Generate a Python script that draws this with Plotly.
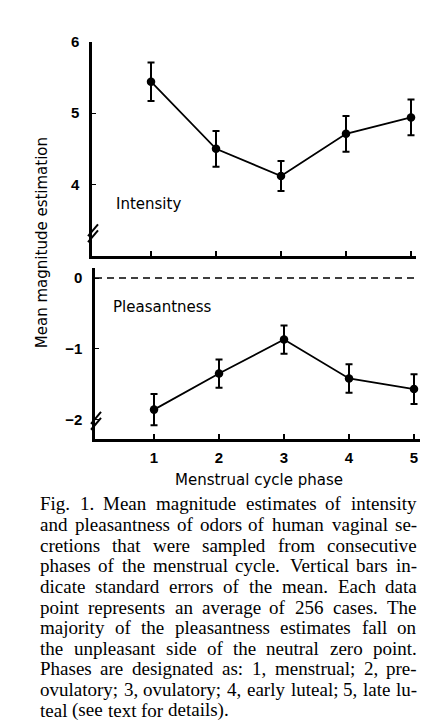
import plotly.graph_objects as go

# ---------------- data ----------------
phases = [1, 2, 3, 4, 5]
phase_labels = ["1", "2", "3", "4", "5"]
intensity = [5.44, 4.50, 4.12, 4.71, 4.94]
intensity_se = [0.27, 0.25, 0.21, 0.25, 0.25]
pleasantness = [-1.86, -1.35, -0.87, -1.42, -1.57]
pleasantness_se = [0.22, 0.20, 0.20, 0.20, 0.21]
int_ticks = [4, 5, 6]
int_ticktext = ["4", "5", "6"]
pl_ticks = [-2, -1, 0]
pl_ticktext = ["\u22122", "\u22121", "0"]

caption_lines = [
    "Fig. 1. Mean magnitude estimates of intensity",
    "and pleasantness of odors of human vaginal se-",
    "cretions that were sampled from consecutive",
    "phases of the menstrual cycle. Vertical bars in-",
    "dicate standard errors of the mean. Each data",
    "point represents an average of 256 cases. The",
    "majority of the pleasantness estimates fall on",
    "the unpleasant side of the neutral zero point.",
    "Phases are designated as: 1, menstrual; 2, pre-",
    "ovulatory; 3, ovulatory; 4, early luteal; 5, late lu-",
    "teal (see text for details).",
]

# the page body has an 8px margin: the figure starts at (8, 8) of the window
OX, OY = 8, 8
W, H = 437 - OX, 725 - OY


def px(x):
    return (x - OX) / W


def py(y):
    return 1 - (y - OY) / H


SANS = "DejaVu Sans"
SERIF = "Liberation Serif"

fig = go.Figure()

fig.add_trace(go.Scatter(
    x=phases, y=intensity, mode="lines+markers",
    line=dict(color="black", width=1.8),
    marker=dict(color="black", size=8.5),
    error_y=dict(type="data", array=intensity_se, visible=True,
                 color="black", thickness=2, width=3.5),
    xaxis="x", yaxis="y", showlegend=False,
))
fig.add_trace(go.Scatter(
    x=phases, y=pleasantness, mode="lines+markers",
    line=dict(color="black", width=1.8),
    marker=dict(color="black", size=8.5),
    error_y=dict(type="data", array=pleasantness_se, visible=True,
                 color="black", thickness=2, width=3.5),
    xaxis="x2", yaxis="y2", showlegend=False,
))

tickfont = dict(family="Liberation Sans", size=15, color="black", weight="bold")

fig.update_layout(
    width=W, height=H,
    margin=dict(l=0, r=0, t=0, b=0),
    paper_bgcolor="white", plot_bgcolor="white",
    xaxis=dict(domain=[px(92), px(416)], range=[0.092, 5.077], anchor="y",
               tickvals=phases, showticklabels=False, ticks="inside",
               ticklen=5, tickwidth=1.5, tickcolor="black",
               showline=True, linewidth=2.5, linecolor="black",
               showgrid=False, zeroline=False),
    yaxis=dict(domain=[py(250), py(33)], range=[3.0, 6.0], anchor="x",
               tickvals=int_ticks, ticktext=int_ticktext, ticks="inside",
               ticklen=4, tickwidth=1, tickcolor="black",
               showline=True, linewidth=2.5, linecolor="black",
               showgrid=False, zeroline=False, tickfont=tickfont,
               ticklabelstandoff=7),
    xaxis2=dict(domain=[px(95), px(420)], range=[0.092, 5.092], anchor="y2",
                tickvals=phases, ticktext=phase_labels, ticks="inside",
                ticklen=5, tickwidth=1.5, tickcolor="black",
                showline=True, linewidth=2.5, linecolor="black",
                showgrid=False, zeroline=False, tickfont=tickfont,
                ticklabelstandoff=4),
    yaxis2=dict(domain=[py(435), py(262)], range=[-2.27, 0.144], anchor="x2",
                tickvals=pl_ticks, ticktext=pl_ticktext, ticks="inside",
                ticklen=4, tickwidth=1, tickcolor="black",
                showline=True, linewidth=2.5, linecolor="black",
                showgrid=False, zeroline=False, tickfont=tickfont,
                ticklabelstandoff=7),
)

shapes = []
# dashed neutral zero line
shapes.append(dict(type="line", xref="x2 domain", yref="y2", x0=0, x1=0.985,
                   y0=0, y1=0, line=dict(color="black", width=1.5, dash="7px,5px")))
# axis break marks
for cx, cys in [(93, (224, 230)), (96, (414, 420))]:
    for cy in cys:
        shapes.append(dict(type="line", xref="paper", yref="paper",
                           x0=px(cx - 5), y0=py(cy + 6), x1=px(cx + 5), y1=py(cy - 6),
                           line=dict(color="black", width=2)))
fig.update_layout(shapes=shapes)

ann = []
lab_font = dict(family=SANS, size=15, color="black")
ann.append(dict(text="Intensity", x=px(114), y=py(197), xref="paper", yref="paper",
                xanchor="left", yanchor="middle", showarrow=False, font=lab_font))
ann.append(dict(text="Pleasantness", x=px(111), y=py(302), xref="paper", yref="paper",
                xanchor="left", yanchor="middle", showarrow=False, font=lab_font))
ann.append(dict(text="Mean magnitude estimation", x=px(42), y=py(237), xref="paper",
                yref="paper", xanchor="center", yanchor="middle", textangle=-90,
                showarrow=False, font=lab_font))
ann.append(dict(text="Menstrual cycle phase", x=px(259), y=py(477), xref="paper",
                yref="paper", xanchor="center", yanchor="middle",
                showarrow=False, font=lab_font))

# ---- justified caption, word spacing from Times metrics ----
TW = {' ': 250, '!': 333, '(': 333, ')': 333, ',': 250, '-': 333, '.': 250,
      ':': 278, ';': 278}
for d in "0123456789":
    TW[d] = 500
upper = dict(A=722, B=667, C=667, D=722, E=611, F=556, G=722, H=722, I=333, J=389,
             K=722, L=611, M=889, N=722, O=722, P=556, Q=722, R=667, S=556, T=611,
             U=722, V=722, W=944, X=722, Y=722, Z=611)
lower = dict(a=444, b=500, c=444, d=500, e=444, f=333, g=500, h=500, i=278, j=278,
             k=500, l=278, m=778, n=500, o=500, p=500, q=500, r=333, s=389, t=278,
             u=500, v=500, w=722, x=500, y=500, z=444)
TW.update(upper)
TW.update(lower)

CAP_SIZE = 19
LEFT, RIGHT = 40, 417
TOP, LEAD = 501, 20.9


def wwidth(w):
    return sum(TW.get(c, 500) for c in w) / 1000 * CAP_SIZE


def word_ann(w, x, anchor, yy):
    return dict(text=w, x=px(x), y=py(yy), xref="paper", yref="paper",
                xanchor=anchor, yanchor="middle", showarrow=False,
                borderpad=0, borderwidth=0,
                font=dict(family=SERIF, size=CAP_SIZE, color="black"))


for i, line in enumerate(caption_lines):
    words = line.split(" ")
    widths = [wwidth(w) for w in words]
    yy = TOP + LEAD * i
    last = i == len(caption_lines) - 1
    if last:
        xpos = LEFT
        for w, ww in zip(words, widths):
            ann.append(word_ann(w, xpos, "left", yy))
            xpos += ww + 0.25 * CAP_SIZE
        continue
    gap = (RIGHT - LEFT - sum(widths)) / (len(words) - 1)
    n = len(words)
    half = (n + 1) // 2
    xpos = LEFT
    for j in range(half):
        ann.append(word_ann(words[j], xpos, "left", yy))
        xpos += widths[j] + gap
    xpos = RIGHT
    for j in range(n - 1, half - 1, -1):
        ann.append(word_ann(words[j], xpos, "right", yy))
        xpos -= widths[j] + gap

fig.update_layout(annotations=ann)

fig.write_html("out.html")
